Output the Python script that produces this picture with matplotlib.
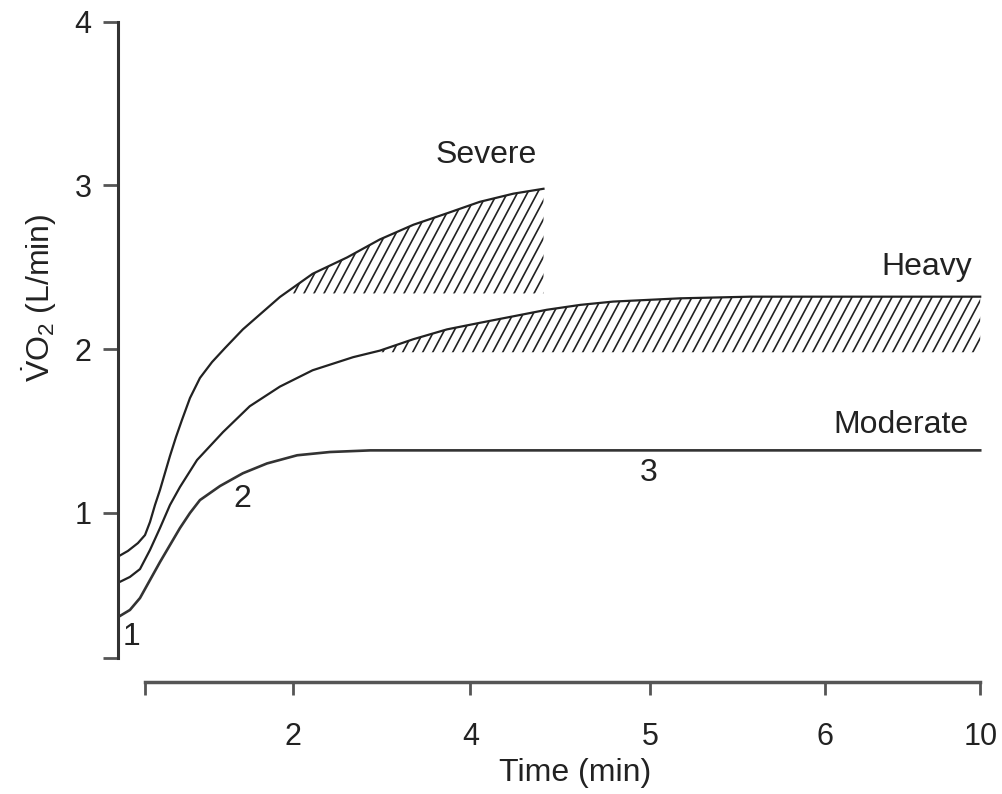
import matplotlib
matplotlib.use("Agg")
import numpy as np
import matplotlib.pyplot as plt
from matplotlib.collections import LineCollection
from matplotlib.transforms import IdentityTransform

plt.rcParams["font.family"] = ["Liberation Sans", "DejaVu Sans"]
plt.rcParams["mathtext.fontset"] = "custom"
plt.rcParams["mathtext.rm"] = "Liberation Sans"
plt.rcParams["mathtext.it"] = "Liberation Sans:italic"

# curves (x in axis position units, y in L/min)
severe_x = [0, 0.116, 0.232, 0.314, 0.372, 0.430, 0.488, 0.546, 0.604, 0.674, 0.743,
            0.836, 0.952, 1.092, 1.243, 1.45, 1.68, 1.88, 2.26, 2.66, 3.04, 3.43,
            3.82, 4.20, 4.59, 4.94]
severe_y = [0.73, 0.765, 0.813, 0.862, 0.942, 1.046, 1.138, 1.242, 1.346, 1.462, 1.566,
            1.700, 1.823, 1.920, 2.006, 2.12, 2.226, 2.318, 2.46, 2.56, 2.67, 2.76,
            2.83, 2.90, 2.95, 2.98]
heavy_x = [0, 0.139, 0.256, 0.372, 0.488, 0.604, 0.720, 0.918, 1.22, 1.53, 1.88, 2.26,
           2.73, 3.04, 3.43, 3.82, 4.20, 4.59, 4.98, 5.37, 5.75, 6.14, 6.53, 7.34, 10.01]
heavy_y = [0.57, 0.606, 0.654, 0.771, 0.905, 1.046, 1.156, 1.321, 1.492, 1.65, 1.77, 1.87,
           1.95, 1.99, 2.06, 2.12, 2.16, 2.20, 2.24, 2.27, 2.29, 2.30, 2.31, 2.32, 2.32]
moderate_x = [0, 0.139, 0.256, 0.372, 0.488, 0.604, 0.720, 0.836, 0.952, 1.185, 1.45,
              1.73, 2.08, 2.46, 2.93, 10.01]
moderate_y = [0.36, 0.404, 0.477, 0.587, 0.697, 0.801, 0.905, 0.997, 1.076, 1.162, 1.24,
              1.30, 1.35, 1.37, 1.38, 1.38]

severe_base = 2.34
heavy_base = 1.98

xtick_pos = [0.314, 2.03, 4.09, 6.18, 8.21, 10.01]
xtick_labels = ["", "2", "4", "5", "6", "10"]
ytick_pos = [0.11, 1, 2, 3, 4]
ytick_labels = ["", "1", "2", "3", "4"]

W, H = 1003, 794
fig = plt.figure(figsize=(W / 100, H / 100), dpi=100)
ax = fig.add_axes([0.1176, 0.1486, 0.8674, 0.834])

lc = "#222222"


def hatch_region(x, y, base):
    x = np.array(x); y = np.array(y)
    poly = ax.fill_between(x, y, base, where=y >= base, interpolate=True,
                           facecolor="none", edgecolor="none", linewidth=0)
    # steep diagonal hatch drawn as clipped lines (pixel space)
    ang = np.deg2rad(62)
    dx = H / np.tan(ang)
    segs = [[(c, 0), (c + dx, H)] for c in np.arange(-dx, W, 10)]
    hl = LineCollection(segs, colors=lc, linewidths=1.2, transform=IdentityTransform())
    ax.add_collection(hl, autolim=False)
    hl.set_clip_path(poly.get_paths()[0], ax.transData)


hatch_region(severe_x, severe_y, severe_base)
hatch_region(heavy_x, heavy_y, heavy_base)

ax.plot(severe_x, severe_y, color=lc, lw=1.6)
ax.plot(heavy_x, heavy_y, color=lc, lw=1.6)
ax.plot(moderate_x, moderate_y, color="#333333", lw=1.9)

fs = 23
ax.text(4.28, 3.14, "Severe", ha="center", va="baseline", fontsize=fs, color="#222")
ax.text(9.92, 2.45, "Heavy", ha="right", va="baseline", fontsize=fs, color="#222")
ax.text(9.87, 1.486, "Moderate", ha="right", va="baseline", fontsize=fs, color="#222")
ax.text(0.163, 0.19, "1", ha="center", va="baseline", fontsize=fs, color="#222")
ax.text(1.44, 1.034, "2", ha="center", va="baseline", fontsize=fs, color="#222")
ax.text(6.16, 1.19, "3", ha="center", va="baseline", fontsize=fs, color="#222")

ax.set_xlim(0, 10.1)
ax.set_ylim(0, 4.05)
for s in ["top", "right"]:
    ax.spines[s].set_visible(False)
ax.spines["left"].set_bounds(0.11, 4)
ax.spines["left"].set_color("#333333")
ax.spines["left"].set_linewidth(2.2)
ax.spines["bottom"].set_bounds(0.314, 10.01)
ax.spines["bottom"].set_position(("outward", 4.3))
ax.spines["bottom"].set_color("#555555")
ax.spines["bottom"].set_linewidth(2.5)

ax.set_xticks(xtick_pos)
ax.set_xticklabels(xtick_labels)
ax.set_yticks(ytick_pos)
ax.set_yticklabels(ytick_labels)
ax.tick_params(axis="y", length=11, width=2, color="#555555", pad=8,
               labelsize=22, labelcolor="#222")
ax.tick_params(axis="x", length=9.5, width=2, color="#555555", pad=19,
               labelsize=22, labelcolor="#222")

fig.text(575 / W, 1 - 773 / H, "Time (min)", ha="center", va="center",
         fontsize=fs, color="#222")
fig.text(39 / W, 1 - 298 / H, r"$\dot{\mathrm{V}}\mathrm{O}_2$ (L/min)",
         ha="center", va="center", rotation=90, fontsize=fs, color="#222")

fig.savefig("out.png", dpi=100)
